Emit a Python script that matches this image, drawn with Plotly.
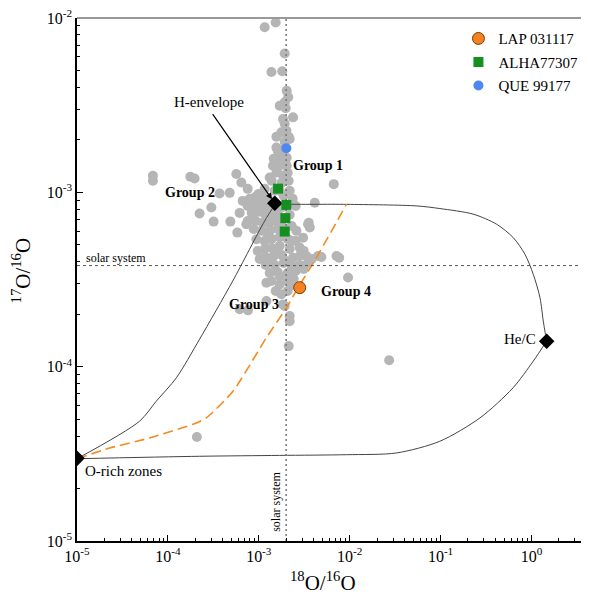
import math
import numpy as np
import plotly.graph_objects as go

# ---------------- data (log10 of isotope ratios) ----------------
# presolar grains (grey): log10(18O/16O), log10(17O/16O)
gray_log18 = [
    -2.935, -2.814, -2.715, -2.861, -2.742, -2.693, -2.676, -2.715, -2.770, -2.704,
    -2.733, -2.623, -2.715, -2.696, -2.751, -2.806, -2.671, -2.715, -2.806, -2.751,
    -2.693, -2.844, -2.770, -2.693, -2.806, -2.733, -2.682, -2.858, -2.748, -2.671,
    -2.825, -2.660, -2.175, -4.165, -4.165, -3.753, -3.706, -3.247, -3.192, -3.122,
    -3.431, -3.320, -3.522, -3.651, -3.497, -3.313, -3.236, -3.026, -3.100, -3.034,
    -2.968, -2.902, -3.122, -3.045, -2.968, -2.902, -3.078, -3.012, -2.935, -2.858,
    -3.122, -3.034, -2.957, -2.880, -2.792, -2.748, -2.660, -3.137, -2.968, -2.880,
    -2.792, -2.638, -2.586, -2.458, -2.384, -2.450, -2.594, -2.627, -2.935, -3.001,
    -2.935, -2.858, -2.770, -2.682, -2.594, -2.513, -2.935, -2.858, -2.770, -2.660,
    -2.550, -2.924, -2.836, -2.748, -2.623, -2.476, -2.550, -2.924, -2.825, -2.726,
    -2.638, -2.550, -2.461, -2.880, -2.792, -2.682, -2.594, -2.506, -2.417, -2.311,
    -2.115, -2.018, -2.916, -2.861, -2.770, -2.682, -2.616, -2.751, -2.682, -2.733,
    -2.660, -2.660, -2.916, -2.715, -3.210, -3.119, -2.671, -1.566, -3.681, -3.012,
    -2.990, -2.715, -2.803, -2.726, -2.439, -2.348, -2.145, -2.660, -2.789, -2.880,
    -3.177, -3.210, -3.078, -2.990, -2.825, -3.056, -2.902, -2.814, -2.704, -2.880,
    -2.770, -2.638, -2.814, -2.792, -2.726, -2.836, -2.770, -2.726, -2.638, -2.506,
]
gray_log17 = [
    -2.053, -2.026, -2.204, -2.310, -2.305, -2.417, -2.454, -2.483, -2.503, -2.517,
    -2.580, -2.570, -2.606, -2.647, -2.656, -2.681, -2.681, -2.710, -2.743, -2.800,
    -2.802, -2.848, -2.842, -2.848, -2.886, -2.905, -2.888, -2.934, -2.945, -2.934,
    -2.991, -2.991, -2.953, -2.905, -2.934, -2.911, -2.921, -2.895, -2.944, -2.980,
    -3.007, -3.003, -3.087, -3.121, -3.168, -3.168, -3.231, -3.269, -3.037, -3.026,
    -3.020, -3.032, -3.078, -3.072, -3.066, -3.089, -3.118, -3.112, -3.124, -3.129,
    -3.164, -3.164, -3.175, -3.175, -3.118, -3.164, -3.129, -3.183, -3.221, -3.221,
    -3.210, -3.193, -3.221, -3.183, -3.060, -3.174, -3.078, -3.037, -2.980, -3.009,
    -3.279, -3.267, -3.256, -3.267, -3.279, -3.260, -3.325, -3.319, -3.307, -3.325,
    -3.317, -3.371, -3.365, -3.359, -3.375, -3.365, -3.365, -3.417, -3.417, -3.405,
    -3.422, -3.417, -3.405, -3.463, -3.457, -3.463, -3.451, -3.440, -3.382, -3.371,
    -3.375, -3.489, -3.518, -3.509, -3.528, -3.509, -3.497, -3.585, -3.566, -3.643,
    -3.710, -3.739, -3.624, -3.652, -3.671, -3.677, -3.882, -3.963, -4.403, -3.336,
    -3.382, -3.210, -3.164, -3.083, -3.202, -3.365, -3.365, -2.694, -2.857, -2.915,
    -3.049, -3.118, -3.049, -3.095, -3.095, -3.210, -3.261, -3.336, -3.394, -3.394,
    -3.480, -3.532, -3.566, -2.761, -2.750, -2.807, -2.991, -3.020, -3.279, -3.336,
]

# meteoritic grains
lap_18 = [2.82e-3]
lap_17 = [2.84e-4]
alha_18 = [1.63e-3, 2.01e-3, 1.96e-3, 1.93e-3]
alha_17 = [1.05e-3, 8.47e-4, 7.11e-4, 5.96e-4]
que_18 = [2.01e-3]
que_17 = [1.79e-3]

# supernova zone compositions (black diamonds)
zone_names = ["H-envelope", "He/C", "O-rich zones"]
zone_18 = [1.5e-3, 1.47, 1.0e-5]
zone_17 = [8.65e-4, 1.40e-4, 2.98e-5]

# mixing curves (log10 values)
mixA_log18 = [-2.814, -2.693, -2.032, -1.261, -1.008, -0.641, -0.383, -0.200, -0.072, 0.020, 0.094, 0.130, 0.160, 0.167]
mixA_log17 = [-3.064, -3.068, -3.069, -3.078, -3.093, -3.125, -3.183, -3.260, -3.355, -3.470, -3.605, -3.739, -3.834, -3.853]
mixB_log18 = [0.167, 0.020, -0.204, -0.567, -1.008, -1.485, -2.035, -2.770, -3.651, -5.0]
mixB_log17 = [-3.853, -3.968, -4.122, -4.294, -4.428, -4.495, -4.505, -4.509, -4.514, -4.528]
mixC_log18 = [-5.0, -4.312, -4.128, -3.907, -3.651, -3.287, -2.935, -2.814]
mixC_log17 = [-4.528, -4.313, -4.198, -4.064, -3.842, -3.509, -3.164, -3.064]
mixD_log18 = [-5.0, -4.642, -4.202, -3.687, -3.577, -3.284, -2.916, -2.696, -2.568, -2.366, -2.035]
mixD_log17 = [-4.528, -4.467, -4.409, -4.323, -4.294, -4.141, -3.834, -3.662, -3.547, -3.375, -3.068]

# solar system ratios
solar_18 = 2.0e-3
solar_17 = 3.8e-4

x_tick_exp = [-5, -4, -3, -2, -1, 0]
y_tick_exp = [-5, -4, -3, -2]

# ---------------- figure ----------------
FONT = "Liberation Serif"
p = lambda a: [10 ** v for v in a]

fig = go.Figure()

fig.add_trace(go.Scatter(x=p(gray_log18), y=p(gray_log17), mode="markers",
                         marker=dict(size=10, color="#b5b5b5"), showlegend=False, hoverinfo="skip"))

for lx, ly in [(mixA_log18, mixA_log17), (mixB_log18, mixB_log17), (mixC_log18, mixC_log17)]:
    fig.add_trace(go.Scatter(x=p(lx), y=p(ly), mode="lines",
                             line=dict(color="#444444", width=1, shape="spline", smoothing=0.8),
                             showlegend=False, hoverinfo="skip"))
fig.add_trace(go.Scatter(x=p(mixD_log18), y=p(mixD_log17), mode="lines",
                         line=dict(color="#f58a1f", width=1.6, dash="10px,5px", shape="spline", smoothing=0.6),
                         showlegend=False, hoverinfo="skip"))

# solar reference lines
fig.add_trace(go.Scatter(x=[solar_18, solar_18], y=[1e-5, 1e-2], mode="lines",
                         line=dict(color="#777777", width=1.5, dash="2px,3px"), showlegend=False, hoverinfo="skip"))
fig.add_trace(go.Scatter(x=[1e-5, 10 ** 0.64], y=[solar_17, solar_17], mode="lines",
                         line=dict(color="#555555", width=1, dash="3px,3px"), showlegend=False, hoverinfo="skip"))

fig.add_trace(go.Scatter(x=zone_18, y=zone_17, mode="markers",
                         marker=dict(symbol="diamond", size=12, color="black"), showlegend=False, hoverinfo="skip"))

fig.add_trace(go.Scatter(x=lap_18, y=lap_17, mode="markers", name="LAP 031117", legendgroup="a",
                         marker=dict(symbol="circle", size=12, color="#f58220", line=dict(color="#7a3d00", width=1))))
fig.add_trace(go.Scatter(x=alha_18, y=alha_17, mode="markers", name="ALHA77307", legendgroup="b",
                         marker=dict(symbol="square", size=10, color="#13901f")))
fig.add_trace(go.Scatter(x=que_18, y=que_17, mode="markers", name="QUE 99177", legendgroup="c",
                         marker=dict(symbol="circle", size=10, color="#4d88f0")))

L = math.log10
ann = []
def label(text, x, y, size=15, bold=False, xanchor="left", angle=0):
    ann.append(dict(x=x, y=y, xref="x", yref="y", text=f"<b>{text}</b>" if bold else text,
                    showarrow=False, xanchor=xanchor, yanchor="middle", textangle=angle,
                    font=dict(family=FONT, size=size, color="black")))

label("Group 1", -2.642, -2.844, 14, True)
label("Group 2", -4.058, -3.003, 14, True)
label("Group 3", -3.354, -3.641, 14, True)
label("Group 4", -2.340, -3.566, 14, True)
label("He/C", 0.072, -3.842, 15, xanchor="right")
label("O-rich zones", -4.939, -4.601, 15)
label("H-envelope", -3.546, -2.480, 15, xanchor="center")
label("solar system", -4.928, -3.376, 12)
label("solar system", -2.806, -4.773, 12, xanchor="center", angle=-90)

ann.append(dict(x=L(zone_18[0]), y=L(zone_17[0]), xref="x", yref="y", ax=-3.519, ay=-2.543,
                axref="x", ayref="y", showarrow=True, arrowhead=2, arrowsize=1, arrowwidth=1.2,
                arrowcolor="black", standoff=5, text=""))

ann.append(dict(x=0.48, y=-0.107, xref="paper", yref="paper", showarrow=False,
                text="<sup>18</sup>O/<sup>16</sup>O", font=dict(family=FONT, size=21, color="black")))
ann.append(dict(x=-0.138, y=0.517, xref="paper", yref="paper", showarrow=False, textangle=-90,
                text="<sup>17</sup>O/<sup>16</sup>O", font=dict(family=FONT, size=21, color="black")))

minor_x = [m * 10 ** e for e in range(-5, 1) for m in range(2, 10)]
minor_y = [m * 10 ** e for e in range(-5, -2) for m in range(2, 10)]

# the page body has an 8px margin, so the figure is offset by 8px
fig.update_layout(
    width=581, height=586,
    margin=dict(l=69, r=0, t=10, b=53, autoexpand=False),
    plot_bgcolor="white", paper_bgcolor="white",
    font=dict(family=FONT, size=15, color="black"),
    annotations=ann,
    showlegend=True,
    legend=dict(x=0.745, y=0.992, xanchor="left", yanchor="top", bgcolor="rgba(0,0,0,0)",
                font=dict(family=FONT, size=15, color="black"), tracegroupgap=1,
                traceorder="grouped", itemwidth=30),
    shapes=[dict(type="line", xref="paper", yref="paper", x0=0, x1=1, y0=1, y1=1,
                 line=dict(color="#999999", width=2))],
)
fig.update_xaxes(type="log", range=[-5, 0.633], showgrid=False, zeroline=False, automargin=False,
                 showline=True, linecolor="black", linewidth=1.5, ticklabeloverflow="allow",
                 ticks="inside", ticklen=6, tickcolor="black",
                 tickvals=[10 ** e for e in x_tick_exp],
                 ticktext=[f"10<sup>{e}</sup>" for e in x_tick_exp],
                 tickfont=dict(family=FONT, size=16, color="black"),
                 minor=dict(ticks="inside", ticklen=3, tickcolor="black", tickvals=minor_x, showgrid=False))
fig.update_yaxes(type="log", range=[-5, -2], showgrid=False, zeroline=False, automargin=False,
                 showline=True, linecolor="black", linewidth=1.5, ticklabeloverflow="allow",
                 ticks="inside", ticklen=6, tickcolor="black",
                 tickvals=[10 ** e for e in y_tick_exp],
                 ticktext=[f"10<sup>{e}</sup>" for e in y_tick_exp],
                 tickfont=dict(family=FONT, size=16, color="black"),
                 minor=dict(ticks="inside", ticklen=3, tickcolor="black", tickvals=minor_y, showgrid=False))

fig.write_html("out.html")
